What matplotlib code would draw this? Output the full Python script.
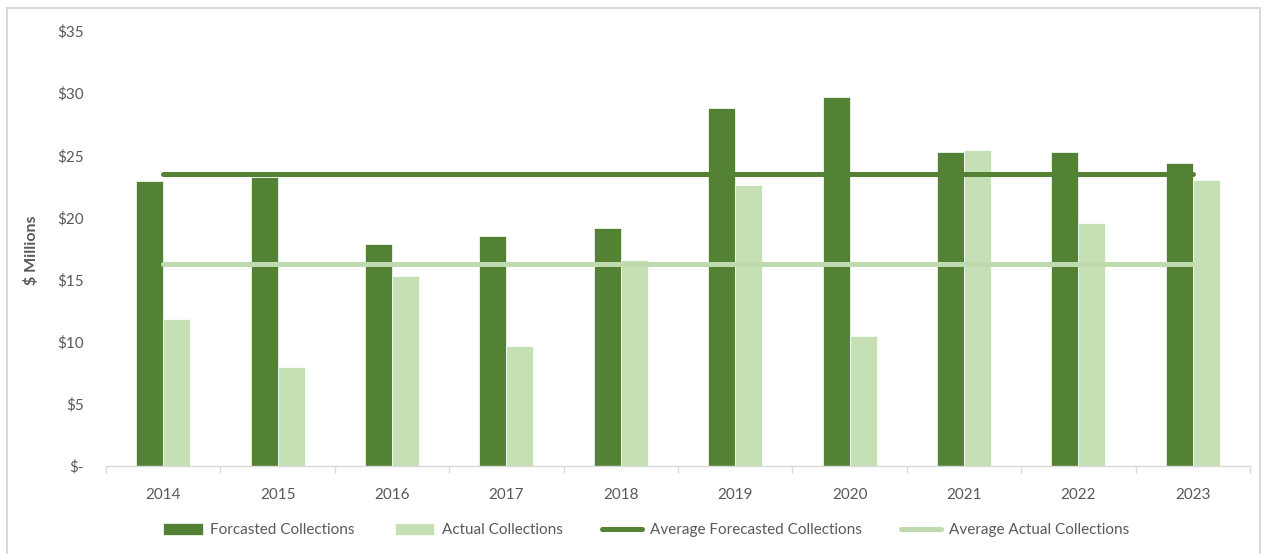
import matplotlib.pyplot as plt
import numpy as np
import matplotlib.ticker as ticker
from matplotlib.patches import Rectangle

plt.rcParams['font.family'] = ['Lato', 'DejaVu Sans']

years = ['2014', '2015', '2016', '2017', '2018', '2019', '2020', '2021', '2022', '2023']
forecasted = [22.9, 23.25, 17.9, 18.5, 19.15, 28.8, 29.7, 25.3, 25.3, 24.4]
actual = [11.8, 8.0, 15.3, 9.65, 16.6, 22.6, 10.5, 25.45, 19.55, 23.0]

dark = '#548235'
light = '#c5e0b4'
light_line = '#bfdaae'
grey_txt = '#595959'
axis_grey = '#d9d9d9'


def dollar_fmt(v, pos):
    if v == 0:
        return '$-'
    return f'${v:.0f}'


fig = plt.figure(figsize=(12.66, 5.54), dpi=100)
ax = fig.add_axes([106 / 1266, 1 - 466 / 554, (1250 - 106) / 1266, (466 - 31) / 554])

# рамка вокруг всего графика
fig.patches.append(Rectangle((7 / 1266, -0.02), (1260 - 7) / 1266, 1.02 - 8 / 554,
                             transform=fig.transFigure, fill=False,
                             edgecolor=axis_grey, linewidth=1.5))

x = np.arange(len(years))
w = 0.236
b1 = ax.bar(x - w / 2, forecasted, w, color=dark, edgecolor='white', linewidth=0.5,
            label='Forcasted Collections', zorder=2)
b2 = ax.bar(x + w / 2, actual, w, color=light, edgecolor='white', linewidth=0.5,
            label='Actual Collections', zorder=2)

avg_f = np.mean(forecasted)
avg_a = np.mean(actual)
l1, = ax.plot(x, [avg_f] * len(x), color=dark, linewidth=3.6, solid_capstyle='round',
              label='Average Forecasted Collections', zorder=3)
l2, = ax.plot(x, [avg_a] * len(x), color=light_line, linewidth=3.6, solid_capstyle='round',
              label='Average Actual Collections', zorder=3)

ax.set_xlim(-0.5, len(years) - 0.5)
ax.set_ylim(0, 35)
ax.yaxis.set_major_locator(ticker.MultipleLocator(5))
ax.yaxis.set_major_formatter(ticker.FuncFormatter(dollar_fmt))

ax.set_xticks(x)
ax.set_xticklabels(years)
ax.set_xticks(np.arange(-0.5, len(years)), minor=True)
ax.tick_params(axis='x', which='major', length=0, pad=16, labelsize=11, labelcolor=grey_txt)
ax.tick_params(axis='x', which='minor', length=5, color=axis_grey, width=1)
ax.tick_params(axis='y', length=0, pad=16, labelsize=11, labelcolor=grey_txt)

for s in ['top', 'right', 'left']:
    ax.spines[s].set_visible(False)
ax.spines['bottom'].set_color(axis_grey)
ax.spines['bottom'].set_linewidth(1)

fig.text(32 / 1266, 1 - 250 / 554, '$ Millions', rotation=90, ha='center', va='center',
         fontsize=11.5, fontweight='bold', color=grey_txt)

leg = fig.legend(handles=[b1, b2, l1, l2], loc='center',
                 bbox_to_anchor=(646 / 1266, 1 - 530 / 554), ncol=4,
                 frameon=False, fontsize=11, handlelength=2.6, handleheight=0.9,
                 columnspacing=2.6, handletextpad=0.5)
for t in leg.get_texts():
    t.set_color(grey_txt)

fig.savefig('out.png', dpi=100)
